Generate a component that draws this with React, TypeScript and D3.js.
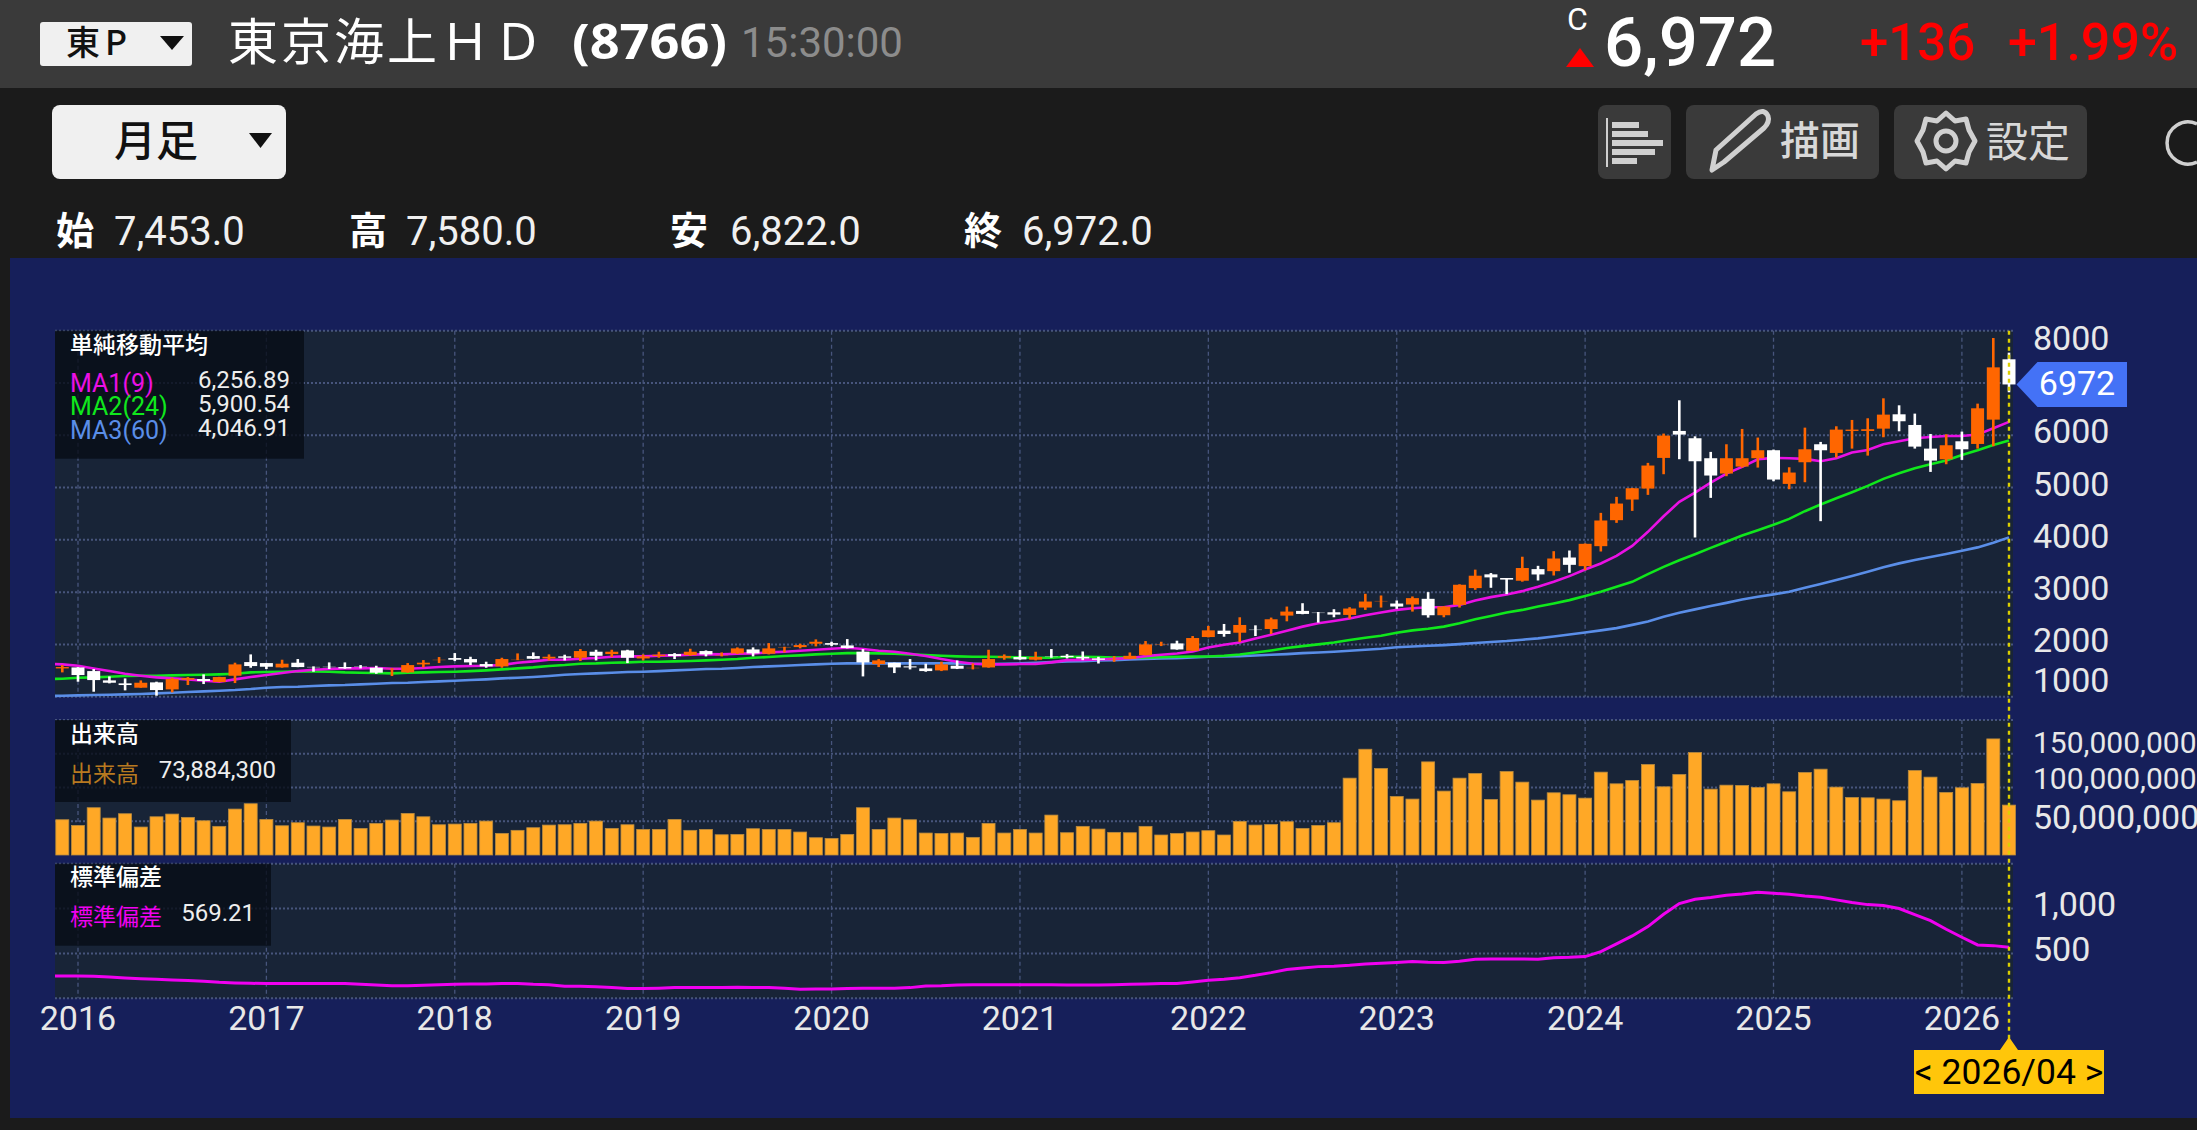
import React from "react";
import * as d3 from "d3";

// ---- Data (Dec 2015 .. Apr 2026, monthly) ----
const opens = [1541,
1560,1490,1312,1255,1172,1274,1140,1325,1338,1280,1401,1662,
1643,1560,1650,1573,1579,1567,1585,1554,1522,1465,1618,1694,
1739,1720,1624,1580,1710,1777,1732,1771,1745,1860,1815,1885,
1732,1777,1815,1796,1873,1792,1828,1904,1822,1947,1949,2013,
2025,1981,1860,1624,1650,1580,1541,1503,1592,1553,1560,1745,
1758,1707,1777,1782,1763,1731,1716,1724,1795,2003,2019,1878,
2141,2263,2224,2292,2295,2551,2641,2617,2615,2564,2705,2814,
2782,2763,2872,2558,2756,3077,3340,3270,3218,3440,3401,3662,
3497,3879,4376,4771,4981,5567,6083,5943,5561,5268,5401,5561,
5714,5070,5484,5828,5662,6083,6083,6127,6401,6197,5745,5541,
5885,5834,6299,7453];
const highs = [1605,
1565,1529,1388,1350,1312,1287,1363,1376,1427,1380,1650,1809,
1645,1707,1720,1580,1656,1656,1605,1592,1545,1643,1700,1758,
1834,1764,1669,1745,1828,1847,1809,1803,1911,1898,1898,1898,
1809,1860,1834,1917,1885,1847,1943,1943,2025,1955,2013,2096,
2051,2102,1911,1720,1650,1720,1631,1669,1694,1637,1898,1809,
1892,1860,1911,1814,1865,1763,1776,1846,2064,2051,2071,2160,
2353,2391,2519,2365,2513,2724,2788,2620,2673,2712,2968,2936,
2840,2917,3000,2730,3150,3430,3365,3270,3677,3503,3783,3796,
3930,4516,4822,4993,5472,6032,6669,5980,5682,5828,6121,5956,
5726,5388,6146,5873,6172,6293,6325,6707,6573,6414,6025,6019,
6070,6605,7860,7580];
const lows = [1465,
1287,1095,1255,1121,1172,1019,1083,1223,1242,1275,1261,1554,
1529,1555,1565,1478,1529,1535,1541,1439,1395,1459,1560,1643,
1681,1605,1554,1554,1700,1720,1694,1694,1682,1694,1758,1643,
1694,1745,1720,1783,1771,1771,1815,1771,1809,1847,1924,1962,
1968,1924,1388,1567,1452,1522,1478,1490,1529,1522,1555,1707,
1707,1694,1745,1731,1699,1635,1667,1720,1790,1968,1900,1875,
2135,2147,2045,2160,2199,2442,2577,2417,2519,2494,2660,2705,
2680,2628,2513,2519,2705,3045,3083,2962,3200,3223,3318,3370,
3420,3777,4325,4554,4860,5255,5542,4045,4803,5217,5382,5382,
5121,4968,5102,4357,5573,5745,5611,5962,6076,5745,5299,5446,
5529,5745,5790,6822];
const closes = [1567,
1414,1318,1267,1223,1267,1127,1338,1357,1300,1376,1618,1586,
1573,1631,1567,1554,1574,1541,1580,1459,1541,1605,1650,1713,
1707,1656,1580,1720,1716,1726,1764,1745,1873,1783,1860,1745,
1771,1803,1777,1860,1809,1797,1924,1828,1924,1952,1987,2051,
1994,1930,1656,1694,1560,1560,1490,1618,1535,1558,1720,1777,
1713,1758,1758,1756,1731,1705,1720,1782,2000,2008,1904,2122,
2269,2199,2372,2287,2481,2628,2583,2612,2570,2686,2820,2833,
2724,2885,2558,2724,3141,3314,3282,3240,3461,3338,3643,3522,
3924,4370,4694,4987,5421,5994,6013,5503,5230,5561,5561,5714,
5153,5287,5732,5713,6108,6108,6115,6395,6268,5783,5516,5809,
5732,6516,7299,6972];
// The first value of each line series is the month just left of the visible window.
const ma1Values = [1630,1618,
1592,1541,1490,1439,1401,1369,1350,1331,1306,1287,1331,1376,
1414,1452,1490,1516,1529,1541,1541,1548,1535,1535,1548,1567,
1580,1586,1592,1605,1650,1675,1707,1707,1726,1739,1764,1771,
1771,1783,1790,1803,1815,1809,1822,1828,1847,1860,1879,1898,
1917,1936,1911,1879,1860,1822,1777,1720,1669,1631,1618,1618,
1624,1624,1656,1699,1705,1712,1724,1737,1776,1801,1827,1865,
1942,1994,2038,2115,2186,2263,2340,2404,2449,2494,2558,2609,
2660,2692,2712,2712,2756,2840,2904,2955,3019,3102,3197,3306,
3433,3548,3694,3885,4153,4452,4726,4905,5096,5268,5395,5542,
5567,5560,5548,5503,5560,5669,5720,5828,5885,5943,5968,5987,
5987,6013,6134,6257];
const ma2Values = [1338,1344,
1363,1369,1382,1395,1401,1401,1408,1414,1420,1427,1439,1465,
1471,1478,1484,1484,1478,1465,1459,1452,1446,1459,1465,1471,
1478,1490,1503,1522,1541,1560,1586,1605,1631,1637,1650,1656,
1669,1669,1675,1682,1694,1707,1720,1745,1758,1777,1790,1809,
1822,1834,1834,1828,1822,1809,1796,1783,1771,1764,1764,1758,
1752,1745,1745,1763,1763,1756,1750,1750,1750,1756,1763,1769,
1769,1782,1808,1846,1885,1930,1968,2000,2038,2083,2128,2167,
2224,2269,2301,2340,2404,2481,2545,2609,2660,2724,2783,2847,
2924,3006,3102,3197,3344,3484,3611,3726,3847,3962,4083,4185,
4287,4400,4548,4675,4796,4911,5032,5166,5274,5369,5446,5516,
5624,5713,5815,5901];
const ma3Values = [1012,1019,
1025,1032,1038,1044,1051,1064,1076,1089,1102,1115,1127,1146,
1172,1185,1191,1204,1217,1223,1236,1248,1261,1267,1280,1293,
1306,1318,1331,1350,1363,1376,1395,1420,1433,1446,1459,1471,
1478,1490,1503,1516,1529,1535,1548,1567,1580,1592,1605,1618,
1631,1637,1637,1637,1637,1637,1637,1637,1637,1631,1624,1631,
1637,1650,1662,1673,1680,1692,1699,1712,1724,1731,1737,1750,
1763,1769,1776,1788,1801,1814,1833,1846,1859,1878,1897,1917,
1945,1960,1974,1987,2006,2026,2045,2064,2090,2115,2150,2190,
2228,2268,2312,2374,2440,2530,2604,2670,2735,2794,2858,2910,
2957,3008,3085,3155,3231,3308,3391,3474,3550,3614,3671,3729,
3793,3856,3946,4047];
const stdDevValues = [249,249,
249,245,238,227,219,212,204,197,190,178,171,167,
164,164,164,164,164,164,156,149,141,141,145,152,
156,160,160,164,164,156,152,134,134,130,119,108,
108,112,119,119,119,119,123,119,119,112,100,104,
104,108,112,112,112,119,138,141,149,152,152,152,
152,152,152,149,149,149,152,156,160,164,164,182,
201,212,230,256,286,320,338,353,357,368,383,390,
398,409,401,398,413,435,439,439,439,435,453,457,
465,520,606,695,799,937,1056,1104,1123,1149,1163,1182,
1171,1160,1141,1126,1097,1067,1044,1033,1000,933,866,769,
680,595,587,569];
const volumeMillions = [52.2,
43.8,70,54.7,61.1,41.4,56.6,60.6,55.7,50.7,42.4,68,75.9,
52.7,43.3,47.8,42.9,41.4,52.7,39.4,46.8,51.7,61.6,56.6,44.8,
45.8,46.8,50.2,32,36.5,40.4,44.3,44.8,46.8,50.2,39.4,44.8,
37.9,37.9,52.7,36.5,37.9,30,30.5,38.9,37.9,37.9,34,25.6,
24.6,30.5,70,37.9,54.7,52.2,32.5,32,32.5,26.1,46.8,32.5,
37.9,32.5,59.1,33,42.4,38.4,33.5,33,42.4,29.6,32,34,
36,29.6,49.8,44.3,45.3,49.3,39.4,43.8,47.8,113.8,156.6,128.1,
86.7,82.8,137.9,94.6,113.8,120.7,82.3,123.6,107.9,81.3,92.1,89.2,
84.2,122.7,105.4,110.3,134,101,119.2,151.7,97.5,103.4,103,100,
105.4,93.6,122.2,127.1,100.5,85.2,84.7,82.8,80.3,125.1,115.3,92.6,
99.5,105.9,171.9,73.9];
const yearLabels = [2016,2017,2018,2019,2020,2021,2022,2023,2024,2025,2026];
const priceTicks = [8000,7000,6000,5000,4000,3000,2000,1000];
const priceLabels = [8000,6000,5000,4000,3000,2000,1000];
const volumeGridTicks = [150,100,50];
const volumeLabels = [["150,000,000",150],["100,000,000",100],["50,000,000",50]] as [string, number][];
const stdDevTicks = [1500,1000,500,0];
const stdDevLabels = [1000,500];
const lastPrice = 6972;
const legendMA = [
  { name: "MA1(9)", value: "6,256.89" },
  { name: "MA2(24)", value: "5,900.54" },
  { name: "MA3(60)", value: "4,046.91" },
];
const ohlcRow = [
  { k: "始", v: "7,453.0" },
  { k: "高", v: "7,580.0" },
  { k: "安", v: "6,822.0" },
  { k: "終", v: "6,972.0" },
];

// ---- Layout and styling ----
const W = 2197, H = 1130;
const panelL = 55, panelR = 2013;
const C = {
  outer: "#1b1b1b", header: "#3a3a3a", navy: "#161f5a", panel: "#182437",
  grid: "#47557c", up: "#ff6600", down: "#ffffff", vol: "#ffa826", volEdge: "#b98a3e",
  m1: "#ea10e4", m2: "#10e81c", m3: "#5a8ee8", sd: "#f000f0", cross: "#dcd000",
  tag: "#4472f6", date: "#ffc60a", btn: "#3a3a3a", light: "#f0f0f0", text: "#e8e8e8",
};
const UI = "Roboto, 'Noto Sans CJK JP', sans-serif";
const CJK = "'Noto Sans CJK JP', Roboto, sans-serif";

const x = d3.scaleLinear().domain([0, closes.length - 1]).range([62.3, 2009]);
const yP = d3.scaleLinear().domain([1000, 8000]).range([696.7, 330.7]);
const yV = d3.scaleLinear().domain([0, 150]).range([855, 753.7]);
const yS = d3.scaleLinear().domain([0, 1500]).range([998.3, 863.7]);
const yearIndex = (y: number) => (y - 2016) * 12 + 1;

const lineP = d3.line<number>().x((_, i) => x(i - 1)).y((v) => yP(v));
const lineS = d3.line<number>().x((_, i) => x(i - 1)).y((v) => yS(v));

function T(p: any) {
  const { f = UI, s = 34, c = C.text, w = 400, a = "start", y, ...rest } = p;
  return (
    <text fontFamily={f} fontSize={s} fill={c} fontWeight={w} textAnchor={a} dominantBaseline="central" y={y - 1} {...rest}>
      {p.children}
    </text>
  );
}

function Grid({ top, bottom, ys }: { top: number; bottom: number; ys: number[] }) {
  return (
    <g>
      <rect x={panelL} y={top} width={panelR - panelL} height={bottom - top} fill={C.panel} />
      {yearLabels.map((yr) => (
        <line key={yr} x1={x(yearIndex(yr))} x2={x(yearIndex(yr))} y1={top} y2={bottom} stroke={C.grid} strokeWidth={1.3} strokeDasharray="4 3" />
      ))}
      {ys.map((v, i) => (
        <line key={i} x1={panelL} x2={panelR} y1={v} y2={v} stroke={C.grid} strokeWidth={2} strokeDasharray="2 2" />
      ))}
    </g>
  );
}

function Header() {
  return (
    <g>
      <rect x={0} y={0} width={W} height={88} fill={C.header} />
      <rect x={40} y={22} width={152} height={44} rx={3} fill={C.light} />
      <T x={66} y={41} s={34} c="#111" f={CJK} w={500} letterSpacing={5}>東P</T>
      <path d="M160 36H184L172 50Z" fill="#111" />
      <T x={228} y={39} s={50} c="#fff" f={CJK} letterSpacing={3}>東京海上ＨＤ</T>
      <T x={572} y={41} s={49} c="#fff" w={700} f="'Open Sans', sans-serif" textLength={155} lengthAdjust="spacingAndGlyphs">(8766)</T>
      <T x={741} y={43} s={42} c="#8c8c8c">15:30:00</T>
      <T x={1567} y={20} s={32} c="#fff">C</T>
      <path d="M1566 67L1580 48L1594 67Z" fill="#ff0000" />
      <T x={1604} y={43} s={69} c="#fff" w={500}>6,972</T>
      <T x={1860} y={43} s={51} c="#ff0000" w={500}>+136</T>
      <T x={2008} y={43} s={52} c="#ff0000" w={500}>+1.99%</T>

      <rect x={52} y={105} width={234} height={74} rx={8} fill={C.light} />
      <T x={114} y={138} s={42} c="#111" f={CJK} w={500}>月足</T>
      <path d="M249 133H272L260.5 148Z" fill="#111" />

      <rect x={1598} y={105} width={73} height={74} rx={8} fill={C.btn} />
      <rect x={1606} y={118} width={2} height={49} fill="#d0d0d0" />
      {[[122, 27], [131, 36], [140, 51], [149, 43], [158, 25]].map(([yy, w], i) => (
        <rect key={i} x={1612} y={yy} width={w} height={6} fill="#d0d0d0" />
      ))}
      <rect x={1686} y={105} width={193} height={74} rx={8} fill={C.btn} />
      <path d="M1712 170L1716 150L1756 114Q1764 108 1768 116Q1770 122 1764 128L1724 162Z" fill="none" stroke="#d0d0d0" strokeWidth={5} strokeLinejoin="round" />
      <T x={1780} y={139} s={40} c="#d8d8d8" f={CJK} w={500}>描画</T>
      <rect x={1894} y={105} width={193} height={74} rx={8} fill={C.btn} />
      <path d="M1946 113L1955 121L1966 119L1969 130L1975 141L1969 152L1966 163L1955 161L1946 169L1937 161L1926 163L1923 152L1917 141L1923 130L1926 119L1937 121Z" fill="none" stroke="#d0d0d0" strokeWidth={5} strokeLinejoin="round" />
      <circle cx={1946} cy={141} r={10} fill="none" stroke="#d0d0d0" strokeWidth={5} />
      <T x={1986} y={139} s={42} c="#d8d8d8" f={CJK}>設定</T>
      <path d="M2197 124A21 21 0 1 0 2197 162" fill="none" stroke="#d0d0d0" strokeWidth={3.5} />

      {ohlcRow.map((d, i) => {
        const kx = [56, 349, 670, 964][i];
        const vx = [114, 406, 730, 1022][i];
        return (
          <g key={d.k}>
            <T x={kx} y={228} s={38} c="#fff" f={CJK} w={700}>{d.k}</T>
            <T x={vx} y={232} s={40} c="#f0f0f0">{d.v}</T>
          </g>
        );
      })}
    </g>
  );
}

function Candles() {
  const bw = 13, ww = 2.6;
  return (
    <g>
      {closes.map((c, i) => {
        const o = opens[i];
        const up = c >= o;
        const col = up ? C.up : C.down;
        const yTop = yP(Math.max(o, c));
        const yBot = yP(Math.min(o, c));
        const h = yBot - yTop;
        const faint = h < 1;
        return (
          <g key={i}>
            <rect x={x(i) - ww / 2} y={yP(highs[i])} width={ww} height={Math.max(yP(lows[i]) - yP(highs[i]), 1)} fill={col} />
            <rect x={x(i) - bw / 2} y={yTop} width={bw} height={Math.max(h, 1)} fill={col} opacity={faint ? 0.35 : 1} />
          </g>
        );
      })}
    </g>
  );
}

function LegendBox({ w, h, y }: { w: number; h: number; y: number }) {
  return <rect x={panelL} y={y} width={w} height={h} fill="#060b14" opacity={0.78} />;
}

export default function App() {
  return (
    <svg width={W} height={H} viewBox={`0 0 ${W} ${H}`} style={{ position: "absolute", left: 0, top: 0, display: "block" }}>
      <defs>
        <clipPath id="plot-clip">
          <rect x={panelL} y={300} width={panelR - panelL} height={720} />
        </clipPath>
      </defs>
      <rect width={W} height={H} fill={C.outer} />
      <rect x={10} y={258} width={W - 10} height={860} fill={C.navy} />
      <Header />

      {/* Price panel */}
      <Grid top={yP(8000)} bottom={yP(1000)} ys={priceTicks.map((t) => yP(t))} />
      <g clipPath="url(#plot-clip)">
        <path d={lineP(ma3Values) as string} fill="none" stroke={C.m3} strokeWidth={2.6} />
        <path d={lineP(ma2Values) as string} fill="none" stroke={C.m2} strokeWidth={2.6} />
        <path d={lineP(ma1Values) as string} fill="none" stroke={C.m1} strokeWidth={2.6} />
      </g>
      <Candles />
      <LegendBox y={yP(8000)} w={249} h={128} />
      <T x={70} y={344} s={23} c="#fff" f={CJK} w={500}>単純移動平均</T>
      {legendMA.map((d, i) => (
        <g key={d.name}>
          <T x={70} y={384 + i * 23.5} s={25} c={[C.m1, C.m2, C.m3][i]}>{d.name}</T>
          <T x={290} y={381 + i * 24} s={24} a="end" c="#eee">{d.value}</T>
        </g>
      ))}
      {priceLabels.map((t) => (
        <T key={t} x={2033} y={Math.min(681, Math.max(339, yP(t) - 3))} s={34}>{t}</T>
      ))}

      {/* Volume panel */}
      <Grid top={720} bottom={yV(0)} ys={[720, ...volumeGridTicks.map((t) => yV(t))]} />
      {volumeMillions.map((v, i) => (
        <rect key={i} x={x(i) - 6.5} y={yV(v)} width={13} height={yV(0) - yV(v)} fill={C.vol} stroke={C.volEdge} strokeWidth={0.8} />
      ))}
      <LegendBox y={720} w={236} h={82} />
      <T x={70} y={733} s={23} c="#fff" f={CJK} w={500}>出来高</T>
      <T x={70} y={773} s={23} c="#b87a20" f={CJK}>出来高</T>
      <T x={276} y={771} s={24} a="end" c="#eee">73,884,300</T>
      {volumeLabels.map(([label, t]) => (
        <T key={label} x={2033} y={yV(t) + (t === 150 ? -10 : t === 100 ? -8 : -3)} s={t === 50 ? 34 : 30}>{label}</T>
      ))}

      {/* Standard deviation panel */}
      <Grid top={yS(1500)} bottom={yS(0)} ys={stdDevTicks.map((t) => yS(t))} />
      <g clipPath="url(#plot-clip)">
        <path d={lineS(stdDevValues) as string} fill="none" stroke={C.sd} strokeWidth={3} />
      </g>
      <LegendBox y={yS(1500)} w={216} h={82} />
      <T x={70} y={876} s={23} c="#fff" f={CJK} w={500}>標準偏差</T>
      <T x={70} y={916} s={23} c={C.sd} f={CJK}>標準偏差</T>
      <T x={255} y={914} s={24} a="end" c="#eee">569.21</T>
      {stdDevLabels.map((t) => (
        <T key={t} x={2033} y={yS(t) - 3.5} s={34}>{t >= 1000 ? d3.format(",")(t) : t}</T>
      ))}

      {/* X axis */}
      {yearLabels.map((yr) => (
        <T key={yr} x={x(yearIndex(yr))} y={1019} s={34} a="middle">{yr}</T>
      ))}

      {/* Crosshair */}
      <line x1={x(closes.length - 1)} x2={x(closes.length - 1)} y1={yP(8000)} y2={1040} stroke={C.cross} strokeWidth={2.4} strokeDasharray="4 4" />

      {/* Last price tag */}
      <path
        d={`M2016.5 ${yP(lastPrice)}L2037.5 ${yP(lastPrice) - 22.5}H2127V${yP(lastPrice) + 22.5}H2037.5Z`}
        fill={C.tag}
      />
      <T x={2077} y={yP(lastPrice)} s={34} a="middle" c="#fff">{lastPrice}</T>

      {/* Date tag */}
      <path d={`M${x(closes.length - 1)} 1037L${x(closes.length - 1) + 9} 1050H2104V1094H1914V1050H${x(closes.length - 1) - 9}Z`} fill={C.date} />
      <T x={2009} y={1073} s={35.5} a="middle" c="#000">{"< 2026/04 >"}</T>
    </svg>
  );
}
